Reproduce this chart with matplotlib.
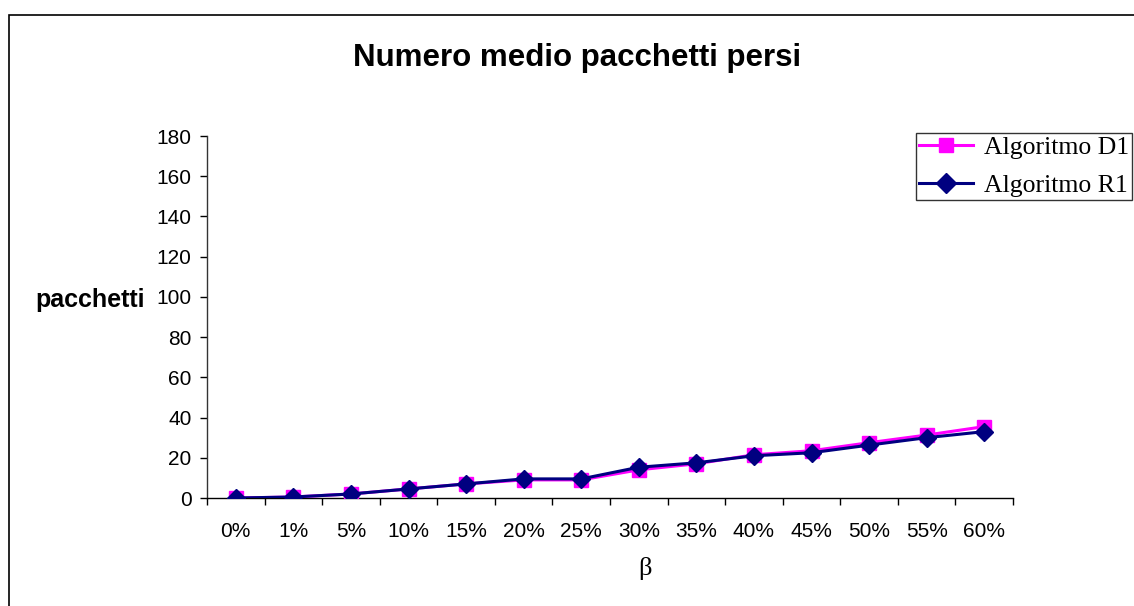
import matplotlib
matplotlib.use("Agg")
import matplotlib.pyplot as plt
from matplotlib.patches import Rectangle
import numpy as np

categories = ["0%", "1%", "5%", "10%", "15%", "20%", "25%", "30%", "35%",
              "40%", "45%", "50%", "55%", "60%"]
algoritmo_d1 = [0, 0.5, 2, 4.5, 7, 9, 9, 14, 17, 21.5, 23.5, 27.5, 31.3, 35.5]
algoritmo_r1 = [0, 0.5, 2, 4.5, 7, 9.5, 9.5, 15.3, 17.5, 21, 22.5, 26.3, 30, 33]
y_ticks = [0, 20, 40, 60, 80, 100, 120, 140, 160, 180]

W, H = 1134, 606
fig = plt.figure(figsize=(W / 100, H / 100), dpi=100)
fig.patch.set_facecolor("white")

# outer chart frame
fig.patches.append(Rectangle((9 / W, -0.05), 1.2, 1 - 15 / H + 0.05,
                             transform=fig.transFigure, fill=False,
                             edgecolor="black", linewidth=1.2))

ax = fig.add_axes([207 / W, 1 - 498 / H, (1013 - 207) / W, (498 - 136) / H])
x = np.arange(len(categories))

ax.plot(x, algoritmo_d1, color="#FF00FF", linewidth=2.2, marker="s",
        markersize=9.5, markeredgecolor="#FF00FF", label="Algoritmo D1", zorder=3)
ax.plot(x, algoritmo_r1, color="#000080", linewidth=2.2, marker="D",
        markersize=9, markeredgecolor="#000080", label="Algoritmo R1", zorder=4)

ax.set_xlim(-0.5, len(categories) - 0.5)
ax.set_ylim(0, 180)
ax.set_yticks(y_ticks)
ax.set_yticklabels([str(v) for v in y_ticks], fontfamily="Liberation Sans", fontsize=15)
ax.set_xticks(x)
ax.set_xticklabels(categories, fontfamily="Liberation Sans", fontsize=15)
ax.set_xticks(np.arange(-0.5, len(categories)), minor=True)
ax.tick_params(axis="x", which="major", length=0, pad=17)
ax.tick_params(axis="x", which="minor", length=5, width=1, color="black")
ax.tick_params(axis="y", length=5, width=1, pad=6, color="black")

for side in ("top", "right"):
    ax.spines[side].set_visible(False)
for side in ("left", "bottom"):
    ax.spines[side].set_color("black")
    ax.spines[side].set_linewidth(1.0)
ax.spines["left"].set_color("#333333")

fig.text(577 / W, 1 - 58 / H, "Numero medio pacchetti persi",
         fontfamily="Liberation Sans", fontweight="bold", fontsize=22.5,
         ha="center", va="center")
fig.text(90 / W, 1 - 300 / H, "pacchetti", fontfamily="Liberation Sans",
         fontweight="bold", fontsize=18, ha="center", va="center")
fig.text(645 / W, 1 - 569 / H, "β", fontfamily="Liberation Serif",
         fontsize=19, ha="center", va="center")

leg = fig.legend(loc="upper left", bbox_to_anchor=(916 / W, 1 - 133 / H),
                 prop={"family": "Liberation Serif", "size": 18.5},
                 frameon=True, fancybox=False, edgecolor="black",
                 handlelength=2.1, handletextpad=0.45, borderpad=0.1,
                 labelspacing=0.6, borderaxespad=0, markerscale=1.1)
leg.get_frame().set_linewidth(1.0)

fig.savefig("out.png", dpi=100, facecolor="white")
